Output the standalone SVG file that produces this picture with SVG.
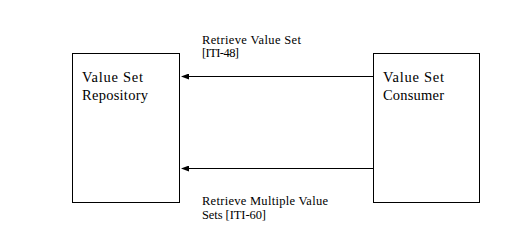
<svg xmlns="http://www.w3.org/2000/svg" width="513" height="252" viewBox="0 0 513 252">
  <style>
    .box { fill: #fff; stroke: #000; stroke-width: 1; }
    .node-text { font-family: "Liberation Serif", serif; font-size: 14.5px; fill: #000; }
    .label { font-family: "Liberation Serif", serif; font-size: 12.5px; fill: #000; }
    .conn { stroke: #000; stroke-width: 1; fill: none; marker-end: url(#arrow); }
  </style>
  <defs>
    <marker id="arrow" viewBox="0 0 8 6" refX="0" refY="3" markerWidth="8" markerHeight="6" markerUnits="userSpaceOnUse" orient="auto">
      <path d="M0,0 L8,3 L0,6 z" fill="#000"/>
    </marker>
  </defs>
  <rect width="513" height="252" fill="#fff"/>
  <g id="repository">
    <rect class="box" x="72.5" y="53.5" width="107" height="149"/>
    <text class="node-text" x="82" y="82" textLength="61" lengthAdjust="spacing">Value  Set</text>
    <text class="node-text" x="82" y="100" textLength="66" lengthAdjust="spacing">Repository</text>
  </g>
  <g id="consumer">
    <rect class="box" x="373.5" y="53.5" width="106" height="149"/>
    <text class="node-text" x="383" y="82" textLength="61" lengthAdjust="spacing">Value  Set</text>
    <text class="node-text" x="383" y="100" textLength="61" lengthAdjust="spacing">Consumer</text>
  </g>
  <g id="connectors">
    <line class="conn" x1="373" y1="76.5" x2="189" y2="76.5"/>
    <line class="conn" x1="373" y1="168.5" x2="189" y2="168.5"/>
    <text class="label" x="202" y="44" textLength="99" lengthAdjust="spacing">Retrieve Value Set</text>
    <text class="label" x="202" y="57" textLength="37" lengthAdjust="spacing">[ITI-48]</text>
    <text class="label" x="202" y="205" textLength="126" lengthAdjust="spacing">Retrieve Multiple Value</text>
    <text class="label" x="202" y="219" textLength="64" lengthAdjust="spacing">Sets [ITI-60]</text>
  </g>
</svg>
